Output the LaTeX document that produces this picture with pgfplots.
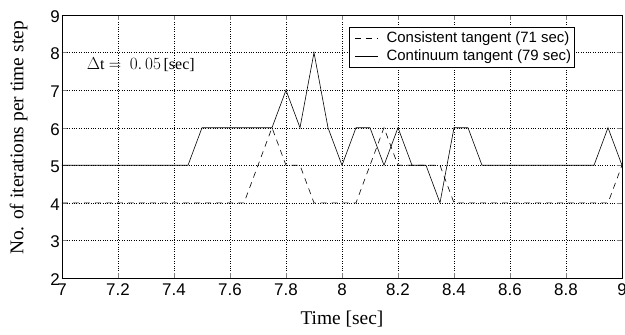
\documentclass[border=0pt]{standalone}
\usepackage{fontspec}
\setmainfont{Liberation Serif}
\newfontfamily\sansf{Liberation Sans}
\usepackage{pgfplots}
\pgfplotsset{compat=1.18}
\begin{document}
\begin{tikzpicture}
\useasboundingbox (-62bp,-57bp) rectangle (563bp,278bp);
\begin{axis}[
  anchor=south west, at={(0,0)},
  width=560bp, height=263bp, scale only axis,
  xmin=7, xmax=9, ymin=2, ymax=9,
  xtick={7,7.2,...,9.01}, ytick={2,...,9},
  xticklabels={7,7.2,7.4,7.6,7.8,8,8.2,8.4,8.6,8.8,9},
  tick align=inside, tick pos=both,
  major tick length=5bp,
  grid=major,
  grid style={black, dotted, line width=0.4pt},
  axis line style={black, line width=0.9pt},
  /pgf/number format/assume math mode=true,
  ticklabel style={font=\sansf\fontsize{17}{19}\selectfont},
  yticklabel style={inner sep=2bp, yshift=-1.5bp},
  xticklabel style={inner sep=2bp, yshift=-3.5bp},
  xlabel={Time [sec]},
  ylabel={No. of iterations per time step},
  label style={font=\fontsize{19.5}{22}\selectfont},
  xlabel style={at={(axis description cs:0.5,-0.1787)}, anchor=base},
  ylabel style={at={(axis description cs:-0.0777,0.532)}, anchor=center},
  legend style={at={(0.916,0.9555)}, anchor=north east, draw=black, line width=0.8pt,
    font=\sansf\fontsize{15}{16}\selectfont, inner sep=2bp, row sep=0bp,
    nodes={inner sep=1.5bp, text height=11.5bp, text depth=3.5bp},
    legend cell align=left},
  legend image code/.code={\draw[#1, line width=0.6pt] (3bp,0bp) -- (26bp,0bp); \path (0bp,0bp) (33bp,0bp);},
]
\addplot[black, line width=0.6pt, dash pattern=on 6bp off 5bp] coordinates {
(7,4) (7.05,4) (7.1,4) (7.15,4) (7.2,4) (7.25,4) (7.3,4) (7.35,4) (7.4,4) (7.45,4) (7.5,4) (7.55,4) (7.6,4) (7.65,4)
(7.7,5) (7.75,6) (7.8,5) (7.85,5) (7.9,4) (7.95,4) (8,4) (8.05,4) (8.1,5) (8.15,6) (8.2,5) (8.25,5) (8.3,5) (8.35,5)
(8.4,4) (8.45,4) (8.5,4) (8.55,4) (8.6,4) (8.65,4) (8.7,4) (8.75,4) (8.8,4) (8.85,4) (8.9,4) (8.95,4) (9,5)
};
\addlegendentry{Consistent tangent (71 sec)}
\addplot[black, solid, line width=0.6pt] coordinates {
(7,5) (7.05,5) (7.1,5) (7.15,5) (7.2,5) (7.25,5) (7.3,5) (7.35,5) (7.4,5) (7.45,5)
(7.5,6) (7.55,6) (7.6,6) (7.65,6) (7.7,6) (7.75,6) (7.8,7) (7.85,6) (7.9,8) (7.95,6) (8,5) (8.05,6) (8.1,6) (8.15,5)
(8.2,6) (8.25,5) (8.3,5) (8.35,4) (8.4,6) (8.45,6) (8.5,5) (8.55,5) (8.6,5) (8.65,5) (8.7,5) (8.75,5) (8.8,5) (8.85,5)
(8.9,5) (8.95,6) (9,5)
};
\addlegendentry{Continuum tangent (79 sec)}
\node[anchor=west, inner sep=0pt, font=\fontsize{16}{18}\selectfont] at (axis cs:7.088,7.67) {$\Delta$t\;$=$\; $0.\,05$\,[sec]};
\end{axis}
\end{tikzpicture}
\end{document}
